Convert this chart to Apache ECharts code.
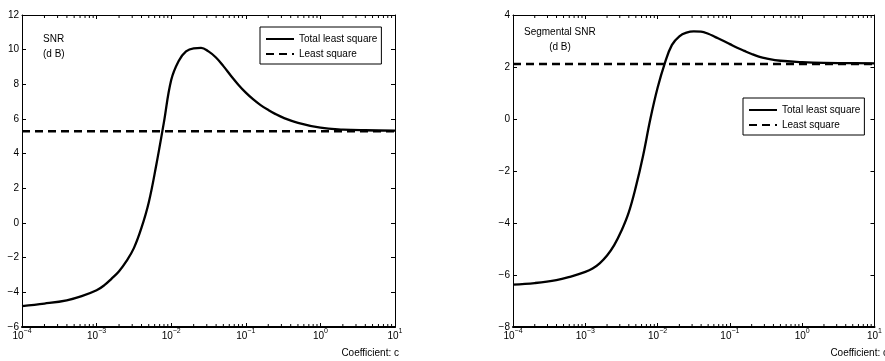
<!DOCTYPE html>
<html>
<head>
<meta charset="utf-8">
<script src="https://cdn.jsdelivr.net/npm/echarts@6/dist/echarts.min.js"></script>
<style>
  html, body { margin: 0; padding: 0; background: #fff; }
  #main { width: 885px; height: 361px; }
</style>
</head>
<body>
<div id="main"></div>
<script>
// coefficient c (x axis, log scale)
var coefC = [0.0001, 0.0002, 0.000398, 0.000631, 0.001, 0.00126, 0.00158, 0.002, 0.00251,
  0.00316, 0.00398, 0.00501, 0.00631, 0.00794, 0.01, 0.0126, 0.0158, 0.02, 0.0251,
  0.0316, 0.0398, 0.0501, 0.0631, 0.0794, 0.1, 0.126, 0.158, 0.2, 0.251, 0.316,
  0.501, 1, 2, 3.98, 10];
// left panel: SNR (dB)
var snrTLS = [-4.79, -4.65, -4.46, -4.22, -3.88, -3.6, -3.22, -2.78, -2.2,
  -1.45, -0.3, 1.2, 3.35, 5.75, 8.25, 9.35, 9.9, 10.08, 10.1,
  9.9, 9.55, 9.05, 8.5, 7.98, 7.52, 7.13, 6.8, 6.52, 6.28, 6.08,
  5.78, 5.5, 5.39, 5.35, 5.33];
var snrLS = 5.3;
// right panel: segmental SNR (dB)
var segTLS = [-6.37, -6.31, -6.2, -6.06, -5.88, -5.75, -5.55, -5.25, -4.85,
  -4.3, -3.6, -2.6, -1.4, 0.0, 1.2, 2.15, 2.85, 3.18, 3.32,
  3.37, 3.36, 3.28, 3.15, 3.02, 2.88, 2.74, 2.62, 2.5, 2.4, 2.33,
  2.24, 2.19, 2.16, 2.15, 2.14];
var segLS = 2.12;

var seriesNames = ['Total least square', 'Least square'];
var xRange = [0.0001, 10];
var leftY = { min: -6, max: 12 };
var rightY = { min: -8, max: 4 };

var FONT = 'Liberation Sans, Arial, sans-serif';

// minor tick positions 2..9 inside each decade
var minorC = [];
for (var d = -4; d < 1; d++) {
  for (var k = 2; k <= 9; k++) minorC.push(k * Math.pow(10, d));
}

function pairs(xs, ys) {
  return xs.map(function (x, i) { return [x, ys[i]]; });
}
function minus(v) {
  return v < 0 ? '\u2212' + (-v) : String(v);
}

function xAxes(gi) {
  var base = {
    type: 'log', logBase: 10, gridIndex: gi, min: xRange[0], max: xRange[1],
    axisLine: { onZero: false, lineStyle: { color: '#000', width: 1 } },
    axisTick: { inside: true, length: 4, lineStyle: { color: '#000' } },
    splitLine: { show: false }
  };
  var bottom = Object.assign({}, base, {
    position: 'bottom',
    axisLine: { onZero: false, lineStyle: { color: '#000', width: 2 } },
    axisLabel: {
      margin: 2, showMinLabel: true, showMaxLabel: true,
      formatter: function (v) {
        var e = Math.round(Math.log10(v));
        return '{b|10}{s|' + minus(e) + '}';
      },
      rich: {
        b: { fontSize: 10, fontFamily: FONT, color: '#000', lineHeight: 12, verticalAlign: 'bottom' },
        s: { fontSize: 7, fontFamily: FONT, color: '#000', lineHeight: 8, padding: [0, 0, 6, 0], verticalAlign: 'bottom' }
      }
    }
  });
  var top = Object.assign({}, base, { position: 'top', axisLabel: { show: false } });
  return [bottom, top];
}

function yAxes(gi, r) {
  var base = {
    type: 'value', gridIndex: gi, min: r.min, max: r.max, interval: 2,
    axisLine: { show: true, onZero: false, lineStyle: { color: '#000', width: 1 } },
    axisTick: { show: true, inside: true, length: 4, lineStyle: { color: '#000' } },
    splitLine: { show: false }
  };
  var left = Object.assign({}, base, {
    position: 'left',
    axisLabel: { margin: 3, fontSize: 10, fontFamily: FONT, color: '#000', formatter: minus }
  });
  var right = Object.assign({}, base, { position: 'right', axisLabel: { show: false } });
  return [left, right];
}

function minorTicks(gi, r) {
  return {
    type: 'custom', xAxisIndex: gi * 2, yAxisIndex: gi * 2, silent: true, clip: false, z: 5,
    data: minorC.map(function (c) { return [c]; }),
    renderItem: function (params, api) {
      var x = api.value(0);
      var b = api.coord([x, r.min]);
      var t = api.coord([x, r.max]);
      var st = { stroke: '#000', lineWidth: 1 };
      return {
        type: 'group', children: [
          { type: 'line', shape: { x1: b[0], y1: b[1], x2: b[0], y2: b[1] - 3 }, style: st },
          { type: 'line', shape: { x1: t[0], y1: t[1], x2: t[0], y2: t[1] + 3 }, style: st }
        ]
      };
    }
  };
}

function curveSeries(gi, ys, lsVal) {
  return [{
    name: seriesNames[0], type: 'line', xAxisIndex: gi * 2, yAxisIndex: gi * 2,
    data: pairs(coefC, ys), symbol: 'none', smooth: 0.4,
    lineStyle: { color: '#000', width: 2.3 }, itemStyle: { color: '#000' }, z: 3
  }, {
    name: seriesNames[1], type: 'line', xAxisIndex: gi * 2, yAxisIndex: gi * 2,
    data: [[xRange[0], lsVal], [xRange[1], lsVal]], symbol: 'none',
    lineStyle: { color: '#000', width: 2.5, type: [8, 5] }, itemStyle: { color: '#000' }, z: 3
  }];
}

function legendAt(left, top) {
  return {
    data: seriesNames, orient: 'vertical', left: left, top: top,
    itemWidth: 28, itemHeight: 12, itemGap: 5, padding: [7, 4, 5, 5],
    borderColor: '#000', borderWidth: 1, backgroundColor: '#fff',
    itemStyle: { opacity: 0 },
    textStyle: { fontSize: 10, fontFamily: FONT, color: '#000' },
    selectedMode: false
  };
}

function label(text, x, y, align) {
  return {
    type: 'text', x: x, y: y,
    style: { text: text, font: '10px ' + FONT, fill: '#000', textAlign: align || 'left', textVerticalAlign: 'middle' }
  };
}

var chart = echarts.init(document.getElementById('main'));
chart.setOption({
  backgroundColor: '#fff',
  animation: false,
  grid: [
    { left: 22, top: 15, width: 373, height: 312 },
    { left: 513, top: 15, width: 371, height: 312 }
  ],
  xAxis: xAxes(0).concat(xAxes(1)),
  yAxis: yAxes(0, leftY).concat(yAxes(1, rightY)),
  legend: [legendAt(260, 27), legendAt(743, 98)],
  series: curveSeries(0, snrTLS, snrLS)
    .concat(curveSeries(1, segTLS, segLS))
    .concat([minorTicks(0, leftY), minorTicks(1, rightY)]),
  graphic: [
    label('SNR', 43, 39),
    label('(d B)', 43, 54),
    label('Segmental SNR', 524, 32),
    label('(d B)', 560, 47, 'center'),
    label('Coefficient: c', 399, 353, 'right'),
    label('Coefficient: c', 888, 353, 'right')
  ]
});
</script>
</body>
</html>
